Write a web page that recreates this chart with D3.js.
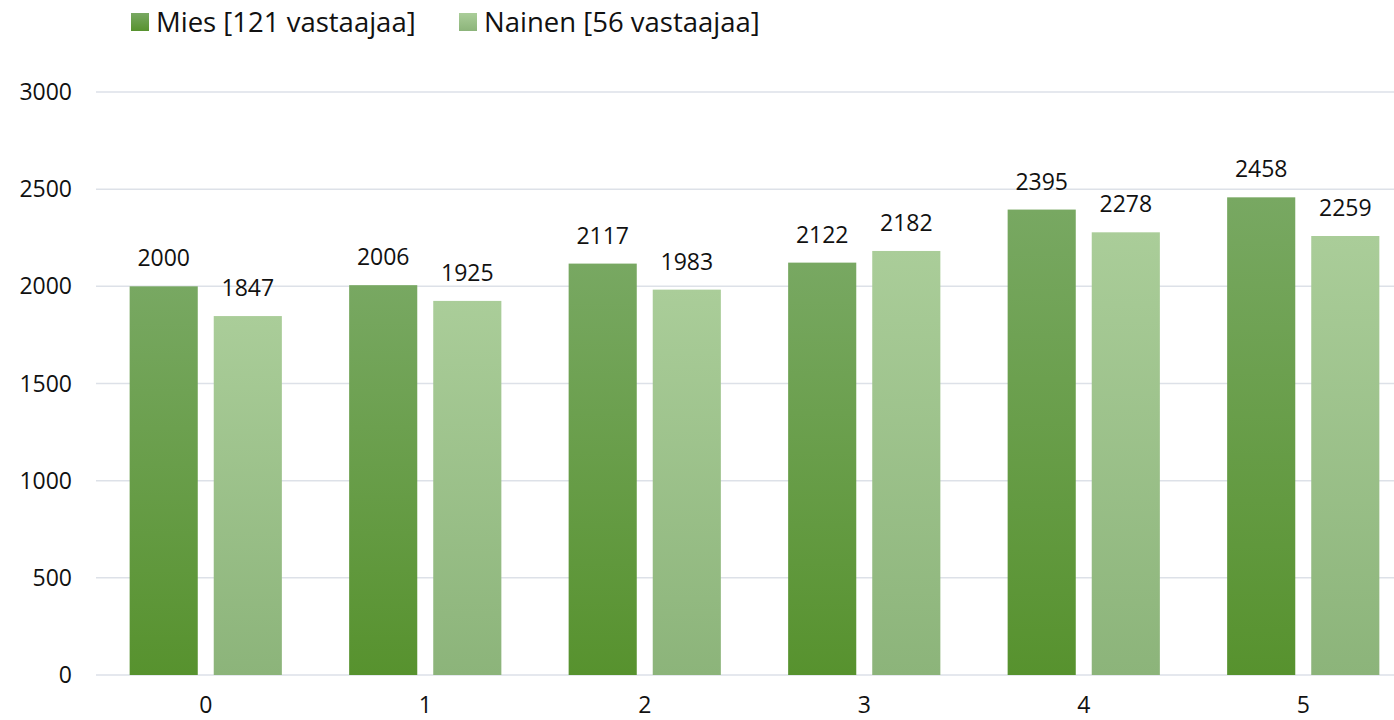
<!DOCTYPE html>
<html>
<head>
<meta charset="utf-8">
<script src="https://cdn.jsdelivr.net/npm/d3@7"></script>
<style>
  body { margin: 0; background: #fff; }
  svg text { font-family: "Open Sans", sans-serif; fill: #111; }
</style>
</head>
<body>
<div id="chart"></div>
<script>
var categories = ["0", "1", "2", "3", "4", "5"];
var seriesNames = ["Mies [121 vastaajaa]", "Nainen [56 vastaajaa]"];
var miesValues = [2000, 2006, 2117, 2122, 2395, 2458];
var nainenValues = [1847, 1925, 1983, 2182, 2278, 2259];
var yTicks = [0, 500, 1000, 1500, 2000, 2500, 3000];

var width = 1394;
var height = 720;

// the plot runs a bit past the right edge, like the original crop
var margin = { top: 92, right: -19, bottom: 45, left: 96 };

var svg = d3.select("#chart")
  .append("svg")
  .attr("width", width)
  .attr("height", height);

// gradients, one per series
var defs = svg.append("defs");
var grads = [
  { id: "gMies", top: "#78a862", bottom: "#57922e" },
  { id: "gNainen", top: "#aacd99", bottom: "#8cb47a" }
];
grads.forEach(function (g) {
  var lg = defs.append("linearGradient")
    .attr("id", g.id)
    .attr("x1", 0).attr("y1", 0).attr("x2", 0).attr("y2", 1);
  lg.append("stop").attr("offset", "0%").attr("stop-color", g.top);
  lg.append("stop").attr("offset", "100%").attr("stop-color", g.bottom);
});

var x0 = d3.scaleBand()
  .domain(categories)
  .range([margin.left, width - margin.right])
  .paddingInner(0)
  .paddingOuter(0);

var x1 = d3.scaleBand()
  .domain([0, 1])
  .range([0, x0.bandwidth()])
  .paddingInner(0.19)
  .paddingOuter(0.4);

var y = d3.scaleLinear()
  .domain([0, 3000])
  .range([height - margin.bottom, margin.top]);

// grid lines
svg.append("g")
  .selectAll("line")
  .data(yTicks)
  .join("line")
  .attr("x1", margin.left)
  .attr("x2", width)
  .attr("y1", (d) => y(d))
  .attr("y2", (d) => y(d))
  .attr("stroke", "#dde1e8")
  .attr("stroke-width", 1.5);

// y axis labels
svg.append("g")
  .selectAll("text")
  .data(yTicks)
  .join("text")
  .attr("x", 72)
  .attr("y", (d) => y(d))
  .attr("dy", "0.35em")
  .attr("text-anchor", "end")
  .style("font-size", "23px")
  .text((d) => d);

// x axis labels
svg.append("g")
  .selectAll("text")
  .data(categories)
  .join("text")
  .attr("x", (d) => x0(d) + x0.bandwidth() / 2)
  .attr("y", 705)
  .attr("dy", "0.35em")
  .attr("text-anchor", "middle")
  .style("font-size", "23px")
  .text((d) => d);

var rows = [];
categories.forEach(function (c, i) {
  rows.push({ cat: c, s: 0, v: miesValues[i] });
  rows.push({ cat: c, s: 1, v: nainenValues[i] });
});

svg.append("g")
  .selectAll("rect")
  .data(rows)
  .join("rect")
  .attr("x", (d) => x0(d.cat) + x1(d.s))
  .attr("y", (d) => y(d.v))
  .attr("width", x1.bandwidth())
  .attr("height", (d) => y(0) - y(d.v))
  .attr("fill", (d) => "url(#" + grads[d.s].id + ")");

// value labels
svg.append("g")
  .selectAll("text")
  .data(rows)
  .join("text")
  .attr("x", (d) => x0(d.cat) + x1(d.s) + x1.bandwidth() / 2)
  .attr("y", (d) => y(d.v) - 28)
  .attr("dy", "0.35em")
  .attr("text-anchor", "middle")
  .style("font-size", "23px")
  .text((d) => d.v);

// legend
var legend = svg.append("g");
var legendX = [131, 459];
seriesNames.forEach(function (name, i) {
  legend.append("rect")
    .attr("x", legendX[i])
    .attr("y", 13)
    .attr("width", 18)
    .attr("height", 18)
    .attr("fill", "url(#" + grads[i].id + ")");
  legend.append("text")
    .attr("x", legendX[i] + 25)
    .attr("y", 22)
    .attr("dy", "0.35em")
    .style("font-size", "27.5px")
    .text(name);
});
</script>
</body>
</html>
